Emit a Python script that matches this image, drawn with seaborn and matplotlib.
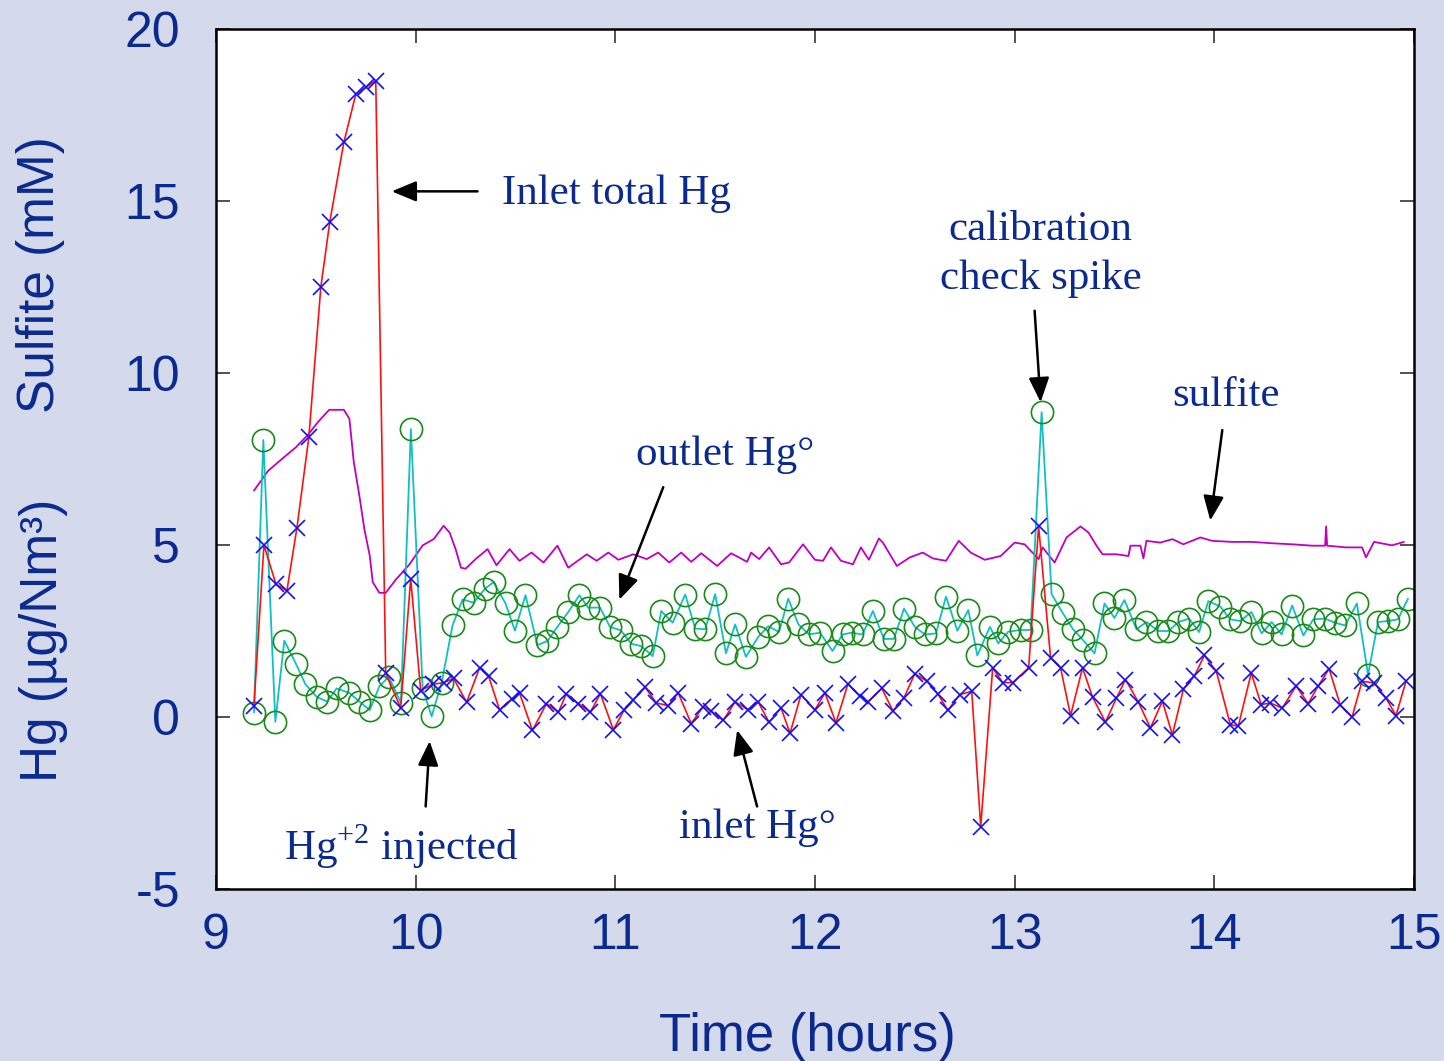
import numpy as np
import pandas as pd
import seaborn as sns
import matplotlib.pyplot as plt

# inlet Hg (total then elemental), ug/Nm3
inlet_t = [9.19, 9.24, 9.30, 9.355, 9.405, 9.465, 9.525, 9.57, 9.64, 9.70, 9.75, 9.80,
           9.85, 9.925, 9.975, 10.025, 10.085, 10.14, 10.19, 10.255, 10.32, 10.365, 10.42,
           10.48, 10.52, 10.585, 10.655, 10.715, 10.755, 10.815, 10.875, 10.925, 10.99,
           11.045, 11.09, 11.15, 11.205, 11.265, 11.315, 11.38, 11.44, 11.48, 11.54, 11.60,
           11.665, 11.715, 11.77, 11.83, 11.875, 11.93, 12.0, 12.05, 12.105, 12.165, 12.225,
           12.265, 12.335, 12.39, 12.445, 12.50, 12.56, 12.615, 12.665, 12.725, 12.785, 12.83,
           12.89, 12.94, 12.99, 13.07, 13.12, 13.18, 13.23, 13.28, 13.34, 13.39, 13.455,
           13.51, 13.555, 13.62, 13.68, 13.74, 13.79, 13.845, 13.90, 13.95, 14.01, 14.08,
           14.12, 14.185, 14.235, 14.28, 14.34, 14.41, 14.47, 14.52, 14.575, 14.63, 14.69,
           14.74, 14.80, 14.86, 14.91, 14.96]
inlet_hg = [0.32, 5.0, 3.86, 3.67, 5.49, 8.14, 12.5, 14.4, 16.7, 18.1, 18.3, 18.5,
            1.27, 0.26, 4.02, 0.77, 0.95, 1.0, 1.12, 0.43, 1.43, 1.19, 0.21,
            0.52, 0.70, -0.39, 0.39, 0.14, 0.68, 0.39, 0.14, 0.68, -0.37,
            0.21, 0.50, 0.86, 0.41, 0.33, 0.70, -0.19, 0.30, 0.17, -0.10, 0.44,
            0.21, 0.44, -0.15, 0.26, -0.47, 0.65, 0.21, 0.70, -0.17, 0.96, 0.60,
            0.44, 0.83, 0.18, 0.55, 1.26, 1.04, 0.68, 0.19, 0.65, 0.75, -3.19,
            1.43, 1.0, 1.0, 1.43, 5.54, 1.72, 1.43, 0.04, 1.43, 0.58, -0.15,
            0.55, 1.09, 0.43, -0.32, 0.46, -0.52, 0.80, 1.19, 1.79, 1.33, -0.22,
            -0.27, 1.28, 0.36, 0.41, 0.26, 0.90, 0.39, 0.90, 1.40, 0.36, 0.0,
            1.04, 0.99, 0.55, 0.04, 1.04]

# outlet Hg elemental
outlet_t = [9.19, 9.237, 9.297, 9.342, 9.40, 9.447, 9.505, 9.556, 9.604, 9.668, 9.718,
            9.77, 9.818, 9.865, 9.926, 9.976, 10.035, 10.08, 10.13, 10.185, 10.235, 10.29,
            10.347, 10.39, 10.45, 10.497, 10.55, 10.61, 10.66, 10.71, 10.764, 10.82, 10.864,
            10.923, 10.973, 11.027, 11.08, 11.13, 11.187, 11.23, 11.287, 11.35, 11.40, 11.45,
            11.50, 11.554, 11.60, 11.654, 11.716, 11.766, 11.82, 11.866, 11.917, 11.97,
            12.025, 12.088, 12.138, 12.183, 12.238, 12.29, 12.345, 12.395, 12.446, 12.50,
            12.55, 12.606, 12.656, 12.713, 12.768, 12.813, 12.876, 12.918, 12.968, 13.03,
            13.08, 13.135, 13.185, 13.24, 13.29, 13.34, 13.40, 13.45, 13.50, 13.55, 13.61,
            13.66, 13.72, 13.77, 13.82, 13.874, 13.924, 13.97, 14.03, 14.08, 14.13, 14.186,
            14.237, 14.287, 14.337, 14.39, 14.446, 14.496, 14.554, 14.605, 14.655, 14.714,
            14.77, 14.82, 14.87, 14.92, 14.97]
outlet_hg = [0.13, 8.05, -0.14, 2.22, 1.55, 0.96, 0.58, 0.45, 0.83, 0.70, 0.45,
             0.20, 0.89, 1.17, 0.41, 8.37, 0.83, 0.02, 1.0, 2.67, 3.42, 3.32,
             3.73, 3.92, 3.30, 2.51, 3.54, 2.09, 2.21, 2.62, 3.05, 3.54, 3.18,
             3.18, 2.62, 2.52, 2.13, 2.06, 1.77, 3.08, 2.74, 3.56, 2.57, 2.55,
             3.57, 1.85, 2.69, 1.75, 2.33, 2.64, 2.47, 3.44, 2.69, 2.40,
             2.45, 1.92, 2.40, 2.45, 2.40, 3.08, 2.27, 2.27, 3.15, 2.62,
             2.40, 2.43, 3.50, 2.51, 3.11, 1.79, 2.62, 2.14, 2.48, 2.53,
             2.53, 8.86, 3.57, 3.03, 2.57, 2.25, 1.85, 3.30, 2.88, 3.40, 2.55,
             2.76, 2.50, 2.50, 2.76, 2.86, 2.47, 3.37, 3.21, 2.84, 2.79, 3.05,
             2.43, 2.76, 2.40, 3.24, 2.37, 2.84, 2.86, 2.74, 2.66, 3.30,
             1.23, 2.76, 2.79, 2.84, 3.44]

# sulfite, mM
sulfite_t = [9.19, 9.26, 9.33, 9.40, 9.46, 9.51, 9.567, 9.64, 9.668, 9.69, 9.718, 9.743,
             9.77, 9.785, 9.818, 9.85, 9.90, 9.968, 10.035, 10.09, 10.14, 10.17, 10.2,
             10.227, 10.25, 10.30, 10.36, 10.405, 10.47, 10.52, 10.58, 10.64, 10.71,
             10.764, 10.857, 10.906, 10.965, 11.015, 11.09, 11.157, 11.215, 11.27, 11.33,
             11.38, 11.43, 11.51, 11.58, 11.66, 11.68, 11.72, 11.77, 11.83, 11.87, 11.94,
             12.0, 12.04, 12.08, 12.13, 12.19, 12.23, 12.27, 12.32, 12.34, 12.41, 12.475,
             12.54, 12.59, 12.656, 12.72, 12.78, 12.85, 12.93, 13.0, 13.05, 13.12, 13.14,
             13.2, 13.26, 13.33, 13.37, 13.41, 13.44, 13.51, 13.57, 13.58, 13.63, 13.645,
             13.66, 13.73, 13.79, 13.845, 13.93, 13.99, 14.09, 14.19, 14.29, 14.39, 14.49,
             14.555, 14.56, 14.565, 14.66, 14.74, 14.76, 14.8, 14.89, 14.95]
sulfite = [6.58, 7.15, 7.5, 7.84, 8.2, 8.57, 8.93, 8.93, 8.67, 7.41, 6.43, 5.46,
           4.69, 3.92, 3.61, 3.61, 3.99, 4.43, 4.99, 5.17, 5.56, 5.36, 4.88,
           4.34, 4.31, 4.59, 4.88, 4.41, 4.88, 4.54, 4.78, 4.49, 4.98,
           4.34, 4.73, 4.54, 4.78, 4.57, 4.73, 4.59, 4.78, 4.49, 4.78,
           4.51, 4.76, 4.39, 4.76, 4.51, 4.78, 4.59, 4.93, 4.44, 4.49, 5.02,
           4.57, 4.54, 4.93, 4.54, 4.44, 4.93, 4.57, 5.19, 5.07, 4.39, 4.64,
           4.78, 4.61, 4.54, 5.12, 4.78, 4.57, 4.68, 5.07, 5.02, 4.59, 4.93,
           4.49, 5.22, 5.54, 5.36, 4.98, 4.73, 4.73, 4.68, 4.98, 4.98, 4.61,
           5.12, 5.07, 5.17, 5.02, 5.22, 5.12, 5.09, 5.09, 5.05, 5.02, 4.98,
           4.98, 5.54, 4.98, 4.93, 4.93, 4.64, 5.09, 4.99, 5.09]

df_in = pd.DataFrame({'t': inlet_t, 'v': inlet_hg})
df_out = pd.DataFrame({'t': outlet_t, 'v': outlet_hg})
df_s = pd.DataFrame({'t': sulfite_t, 'v': sulfite})

sns.set_theme(style="ticks")
plt.rcParams['font.family'] = ['Liberation Sans', 'DejaVu Sans']
plt.rcParams['axes.unicode_minus'] = False
plt.rcParams['mathtext.fontset'] = 'custom'
plt.rcParams['mathtext.rm'] = 'Liberation Serif'

navy = '#0b2a8f'
bg = '#d5d9ec'

fig = plt.figure(figsize=(14.44, 10.61), dpi=100, facecolor=bg)
ax = fig.add_axes([0.1496, 0.1621, 0.8296, 0.8106])
ax.set_facecolor('white')

sns.lineplot(data=df_s, x='t', y='v', ax=ax, color='#c000c0', linewidth=1.3,
             estimator=None, sort=False)
sns.lineplot(data=df_out, x='t', y='v', ax=ax, color='#10c0c0', linewidth=1.3,
             estimator=None, sort=False, marker='o', markersize=16,
             markerfacecolor='none', markeredgecolor='#1a8a1a', markeredgewidth=1.2)
sns.lineplot(data=df_in, x='t', y='v', ax=ax, color='#ff1010', linewidth=1.2,
             estimator=None, sort=False, marker='x', markersize=12,
             markeredgecolor='#1010ff', markeredgewidth=1.2)

ax.set_xlim(9, 15)
ax.set_ylim(-5, 20)
ax.set_xticks(range(9, 16))
ax.set_yticks(range(-5, 21, 5))
ax.set_xlabel('')
ax.set_ylabel('')
ax.tick_params(direction='in', length=10, width=1.2, top=True, right=True,
               labelsize=36, labelcolor=navy, color='#333333')
ax.tick_params(axis='y', pad=26)
ax.tick_params(axis='x', pad=17)
for s in ax.spines.values():
    s.set_linewidth(1.8)
    s.set_color('black')

# axis titles
fig.text(0.559, 1 - 1012 / 1061, 'Time (hours)', fontsize=38, color=navy,
         ha='center', va='top')
fig.text(0.028, 1 - 275 / 1061, 'Sulfite (mM)', fontsize=37, color=navy,
         rotation=90, ha='center', va='center')
fig.text(0.030, 1 - 640 / 1061, 'Hg (µg/Nm³)', fontsize=37, color=navy,
         rotation=90, ha='center', va='center')

# annotations
serif = dict(family=['Liberation Serif', 'DejaVu Serif'], fontsize=31, color=navy)
arw = dict(arrowstyle='-|>,head_length=0.6,head_width=0.25', color='black',
           lw=1.8, mutation_scale=25, shrinkA=0, shrinkB=0)

ax.annotate('', xy=(9.88, 15.28), xytext=(10.31, 15.28), arrowprops=arw)
ax.text(10.43, 15.2, 'Inlet total Hg', ha='left', va='center', **serif)

ax.text(13.13, 13.45, 'calibration\ncheck spike', ha='center', va='center',
        linespacing=1.38, **serif)
ax.annotate('', xy=(13.13, 9.15), xytext=(13.10, 11.81), arrowprops=arw)

ax.text(14.06, 9.33, 'sulfite', ha='center', va='center', **serif)
ax.annotate('', xy=(13.98, 5.71), xytext=(14.04, 8.34), arrowprops=arw)

ax.text(11.55, 7.61, 'outlet Hg°', ha='center', va='center', **serif)
ax.annotate('', xy=(11.02, 3.41), xytext=(11.24, 6.68), arrowprops=arw)

ax.text(11.71, -3.21, 'inlet Hg°', ha='center', va='center', **serif)
ax.annotate('', xy=(11.61, -0.38), xytext=(11.71, -2.6), arrowprops=arw)

ax.text(9.93, -3.76, r'Hg$^{\mathrm{+2}}$ injected', ha='center', va='center', **serif)
ax.annotate('', xy=(10.07, -0.70), xytext=(10.05, -2.6), arrowprops=arw)

fig.savefig('out.png', dpi=100, facecolor=bg)
